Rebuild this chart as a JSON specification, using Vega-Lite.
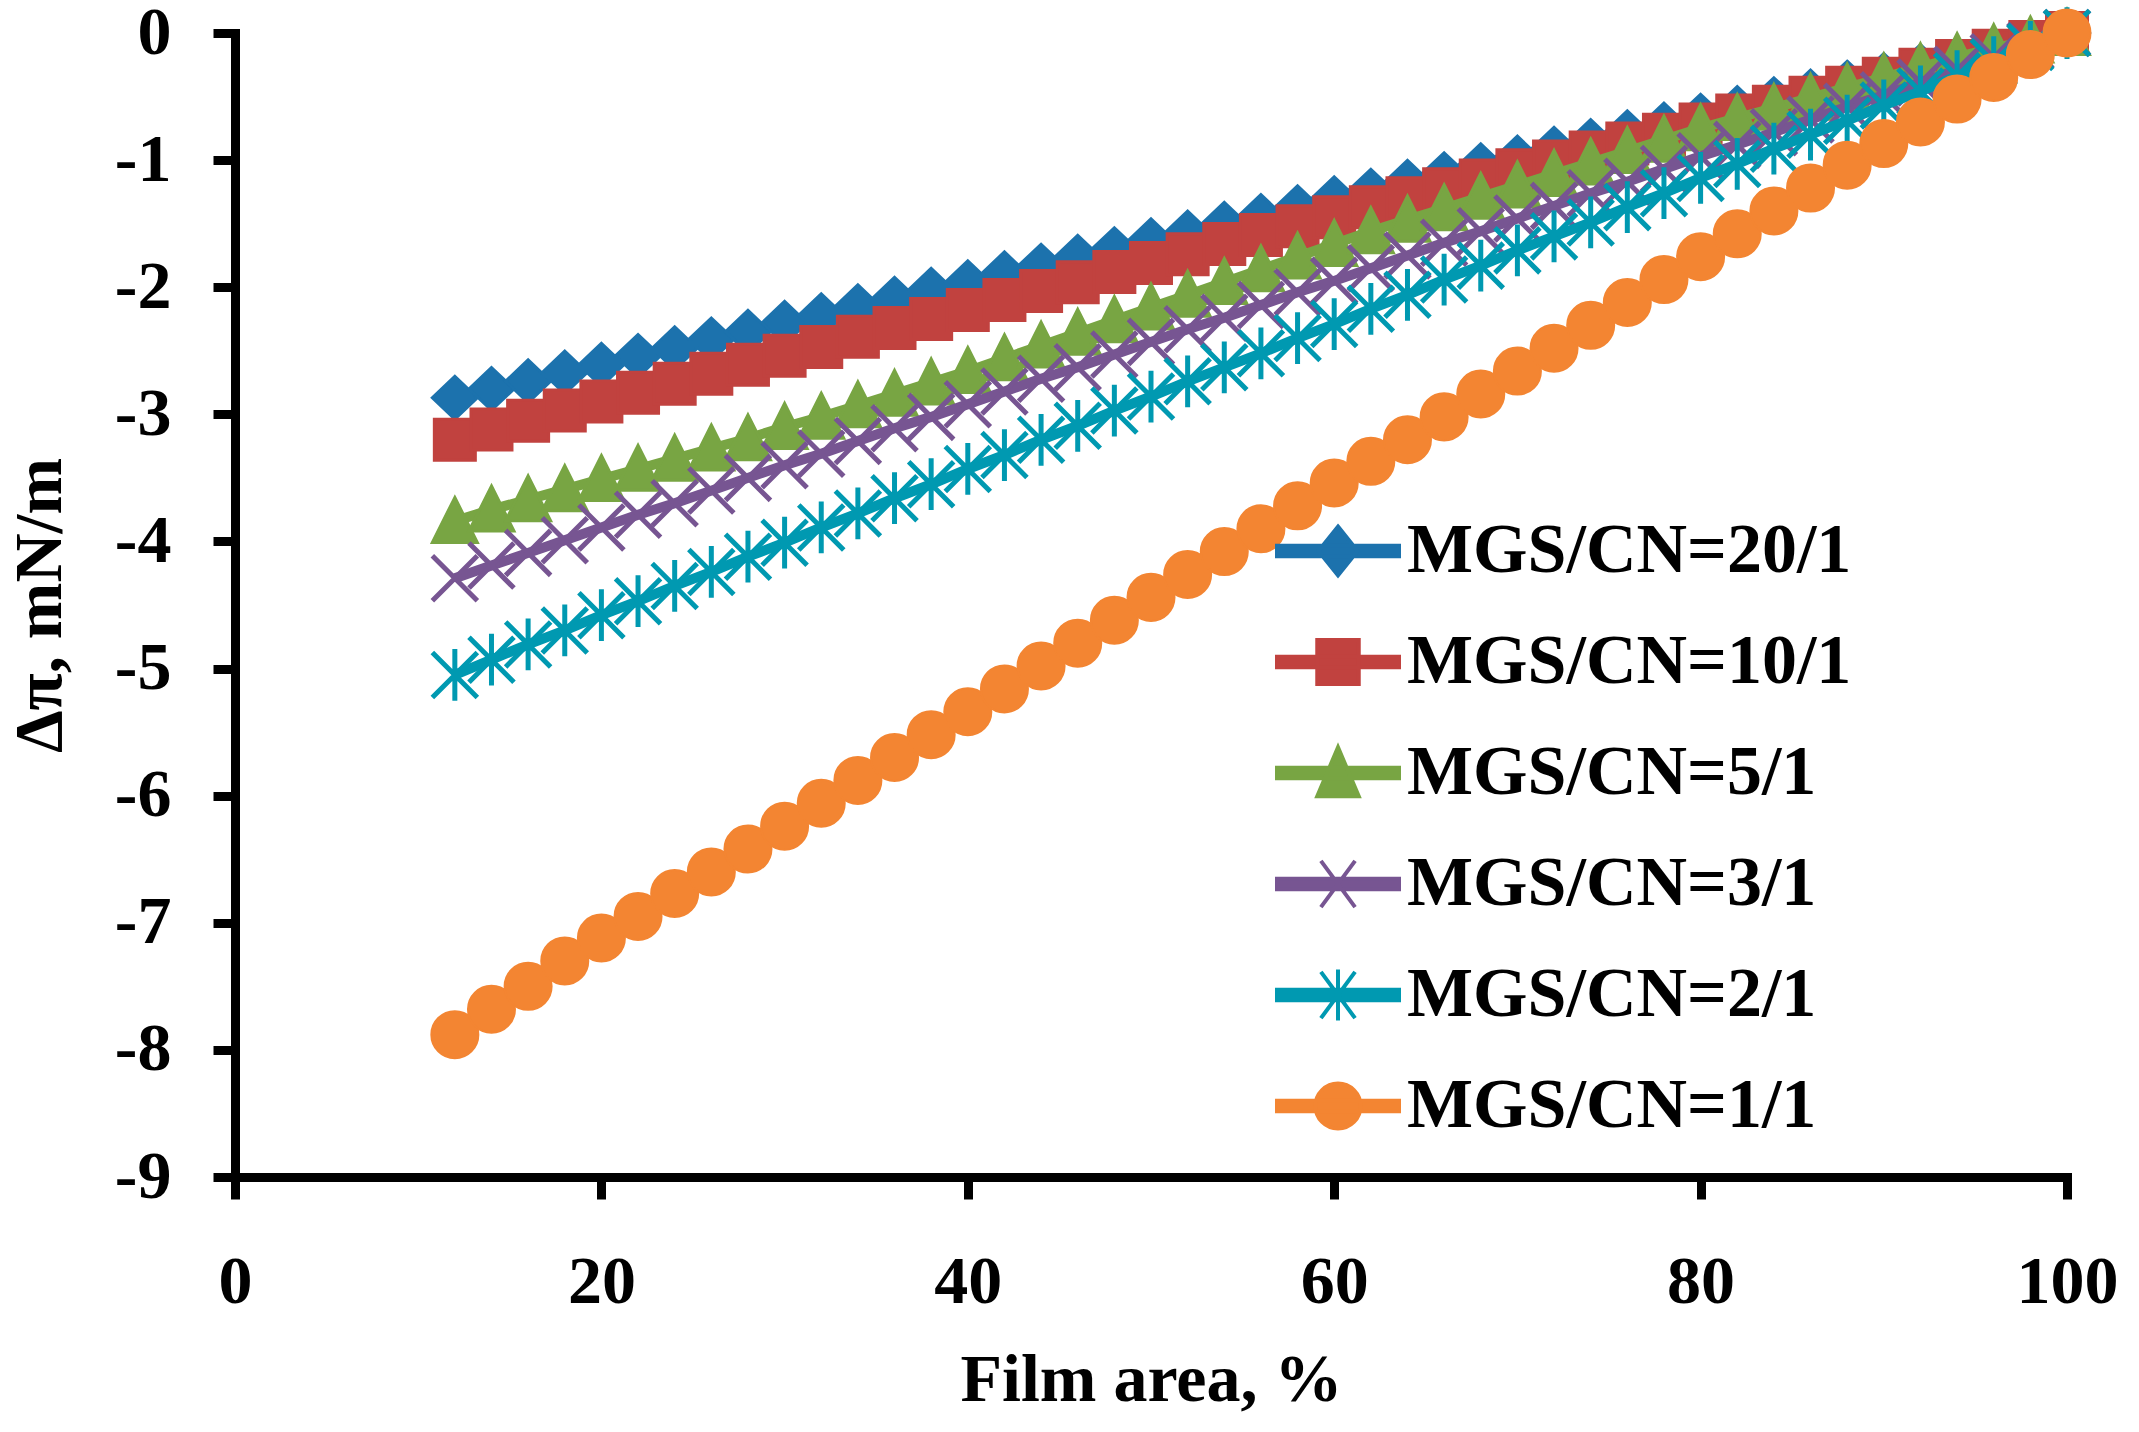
{
  "$schema": "https://vega.github.io/schema/vega-lite/v6.json",
  "width": 1832,
  "height": 1144,
  "autosize": {"type": "none"},
  "padding": {"left": 235, "top": 33, "right": 72, "bottom": 255},
  "background": "white",
  "config": {
    "view": {"stroke": null},
    "font": "Liberation Serif",
    "axis": {
      "grid": false,
      "domainColor": "black",
      "domainWidth": 9,
      "domainCap": "square",
      "tickColor": "black",
      "tickWidth": 9,
      "tickSize": 22,
      "labelFont": "Liberation Serif",
      "labelFontSize": 68,
      "labelFontWeight": "bold",
      "labelColor": "black",
      "titleFont": "Liberation Serif",
      "titleFontSize": 68,
      "titleFontWeight": "bold",
      "titleColor": "black"
    }
  },
  "data": {
    "values": [
      {"s": "MGS/CN=20/1", "x": 12, "y": -2.87}, {"s": "MGS/CN=20/1", "x": 14, "y": -2.80}, {"s": "MGS/CN=20/1", "x": 16, "y": -2.74}, {"s": "MGS/CN=20/1", "x": 18, "y": -2.67}, {"s": "MGS/CN=20/1", "x": 20, "y": -2.61},
      {"s": "MGS/CN=20/1", "x": 22, "y": -2.54}, {"s": "MGS/CN=20/1", "x": 24, "y": -2.48}, {"s": "MGS/CN=20/1", "x": 26, "y": -2.41}, {"s": "MGS/CN=20/1", "x": 28, "y": -2.35}, {"s": "MGS/CN=20/1", "x": 30, "y": -2.28},
      {"s": "MGS/CN=20/1", "x": 32, "y": -2.22}, {"s": "MGS/CN=20/1", "x": 34, "y": -2.15}, {"s": "MGS/CN=20/1", "x": 36, "y": -2.09}, {"s": "MGS/CN=20/1", "x": 38, "y": -2.02}, {"s": "MGS/CN=20/1", "x": 40, "y": -1.96},
      {"s": "MGS/CN=20/1", "x": 42, "y": -1.89}, {"s": "MGS/CN=20/1", "x": 44, "y": -1.83}, {"s": "MGS/CN=20/1", "x": 46, "y": -1.76}, {"s": "MGS/CN=20/1", "x": 48, "y": -1.70}, {"s": "MGS/CN=20/1", "x": 50, "y": -1.63},
      {"s": "MGS/CN=20/1", "x": 52, "y": -1.57}, {"s": "MGS/CN=20/1", "x": 54, "y": -1.50}, {"s": "MGS/CN=20/1", "x": 56, "y": -1.44}, {"s": "MGS/CN=20/1", "x": 58, "y": -1.37}, {"s": "MGS/CN=20/1", "x": 60, "y": -1.30},
      {"s": "MGS/CN=20/1", "x": 62, "y": -1.24}, {"s": "MGS/CN=20/1", "x": 64, "y": -1.17}, {"s": "MGS/CN=20/1", "x": 66, "y": -1.11}, {"s": "MGS/CN=20/1", "x": 68, "y": -1.04}, {"s": "MGS/CN=20/1", "x": 70, "y": -0.98},
      {"s": "MGS/CN=20/1", "x": 72, "y": -0.91}, {"s": "MGS/CN=20/1", "x": 74, "y": -0.85}, {"s": "MGS/CN=20/1", "x": 76, "y": -0.78}, {"s": "MGS/CN=20/1", "x": 78, "y": -0.72}, {"s": "MGS/CN=20/1", "x": 80, "y": -0.65},
      {"s": "MGS/CN=20/1", "x": 82, "y": -0.59}, {"s": "MGS/CN=20/1", "x": 84, "y": -0.52}, {"s": "MGS/CN=20/1", "x": 86, "y": -0.46}, {"s": "MGS/CN=20/1", "x": 88, "y": -0.39}, {"s": "MGS/CN=20/1", "x": 90, "y": -0.33},
      {"s": "MGS/CN=20/1", "x": 92, "y": -0.26}, {"s": "MGS/CN=20/1", "x": 94, "y": -0.20}, {"s": "MGS/CN=20/1", "x": 96, "y": -0.13}, {"s": "MGS/CN=20/1", "x": 98, "y": -0.07}, {"s": "MGS/CN=20/1", "x": 100, "y": 0},

      {"s": "MGS/CN=10/1", "x": 12, "y": -3.20}, {"s": "MGS/CN=10/1", "x": 14, "y": -3.12}, {"s": "MGS/CN=10/1", "x": 16, "y": -3.05}, {"s": "MGS/CN=10/1", "x": 18, "y": -2.97}, {"s": "MGS/CN=10/1", "x": 20, "y": -2.90},
      {"s": "MGS/CN=10/1", "x": 22, "y": -2.83}, {"s": "MGS/CN=10/1", "x": 24, "y": -2.76}, {"s": "MGS/CN=10/1", "x": 26, "y": -2.68}, {"s": "MGS/CN=10/1", "x": 28, "y": -2.61}, {"s": "MGS/CN=10/1", "x": 30, "y": -2.54},
      {"s": "MGS/CN=10/1", "x": 32, "y": -2.47}, {"s": "MGS/CN=10/1", "x": 34, "y": -2.39}, {"s": "MGS/CN=10/1", "x": 36, "y": -2.32}, {"s": "MGS/CN=10/1", "x": 38, "y": -2.25}, {"s": "MGS/CN=10/1", "x": 40, "y": -2.18},
      {"s": "MGS/CN=10/1", "x": 42, "y": -2.10}, {"s": "MGS/CN=10/1", "x": 44, "y": -2.03}, {"s": "MGS/CN=10/1", "x": 46, "y": -1.96}, {"s": "MGS/CN=10/1", "x": 48, "y": -1.88}, {"s": "MGS/CN=10/1", "x": 50, "y": -1.81},
      {"s": "MGS/CN=10/1", "x": 52, "y": -1.74}, {"s": "MGS/CN=10/1", "x": 54, "y": -1.66}, {"s": "MGS/CN=10/1", "x": 56, "y": -1.59}, {"s": "MGS/CN=10/1", "x": 58, "y": -1.52}, {"s": "MGS/CN=10/1", "x": 60, "y": -1.45},
      {"s": "MGS/CN=10/1", "x": 62, "y": -1.37}, {"s": "MGS/CN=10/1", "x": 64, "y": -1.30}, {"s": "MGS/CN=10/1", "x": 66, "y": -1.23}, {"s": "MGS/CN=10/1", "x": 68, "y": -1.16}, {"s": "MGS/CN=10/1", "x": 70, "y": -1.08},
      {"s": "MGS/CN=10/1", "x": 72, "y": -1.01}, {"s": "MGS/CN=10/1", "x": 74, "y": -0.94}, {"s": "MGS/CN=10/1", "x": 76, "y": -0.87}, {"s": "MGS/CN=10/1", "x": 78, "y": -0.80}, {"s": "MGS/CN=10/1", "x": 80, "y": -0.72},
      {"s": "MGS/CN=10/1", "x": 82, "y": -0.65}, {"s": "MGS/CN=10/1", "x": 84, "y": -0.58}, {"s": "MGS/CN=10/1", "x": 86, "y": -0.51}, {"s": "MGS/CN=10/1", "x": 88, "y": -0.43}, {"s": "MGS/CN=10/1", "x": 90, "y": -0.36},
      {"s": "MGS/CN=10/1", "x": 92, "y": -0.29}, {"s": "MGS/CN=10/1", "x": 94, "y": -0.22}, {"s": "MGS/CN=10/1", "x": 96, "y": -0.14}, {"s": "MGS/CN=10/1", "x": 98, "y": -0.07}, {"s": "MGS/CN=10/1", "x": 100, "y": 0},

      {"s": "MGS/CN=5/1", "x": 12, "y": -3.84}, {"s": "MGS/CN=5/1", "x": 14, "y": -3.75}, {"s": "MGS/CN=5/1", "x": 16, "y": -3.67}, {"s": "MGS/CN=5/1", "x": 18, "y": -3.59}, {"s": "MGS/CN=5/1", "x": 20, "y": -3.51},
      {"s": "MGS/CN=5/1", "x": 22, "y": -3.43}, {"s": "MGS/CN=5/1", "x": 24, "y": -3.35}, {"s": "MGS/CN=5/1", "x": 26, "y": -3.27}, {"s": "MGS/CN=5/1", "x": 28, "y": -3.19}, {"s": "MGS/CN=5/1", "x": 30, "y": -3.10},
      {"s": "MGS/CN=5/1", "x": 32, "y": -3.02}, {"s": "MGS/CN=5/1", "x": 34, "y": -2.93}, {"s": "MGS/CN=5/1", "x": 36, "y": -2.84}, {"s": "MGS/CN=5/1", "x": 38, "y": -2.75}, {"s": "MGS/CN=5/1", "x": 40, "y": -2.66},
      {"s": "MGS/CN=5/1", "x": 42, "y": -2.56}, {"s": "MGS/CN=5/1", "x": 44, "y": -2.46}, {"s": "MGS/CN=5/1", "x": 46, "y": -2.36}, {"s": "MGS/CN=5/1", "x": 48, "y": -2.26}, {"s": "MGS/CN=5/1", "x": 50, "y": -2.16},
      {"s": "MGS/CN=5/1", "x": 52, "y": -2.06}, {"s": "MGS/CN=5/1", "x": 54, "y": -1.96}, {"s": "MGS/CN=5/1", "x": 56, "y": -1.86}, {"s": "MGS/CN=5/1", "x": 58, "y": -1.76}, {"s": "MGS/CN=5/1", "x": 60, "y": -1.66},
      {"s": "MGS/CN=5/1", "x": 62, "y": -1.56}, {"s": "MGS/CN=5/1", "x": 64, "y": -1.47}, {"s": "MGS/CN=5/1", "x": 66, "y": -1.38}, {"s": "MGS/CN=5/1", "x": 68, "y": -1.29}, {"s": "MGS/CN=5/1", "x": 70, "y": -1.20},
      {"s": "MGS/CN=5/1", "x": 72, "y": -1.11}, {"s": "MGS/CN=5/1", "x": 74, "y": -1.02}, {"s": "MGS/CN=5/1", "x": 76, "y": -0.93}, {"s": "MGS/CN=5/1", "x": 78, "y": -0.84}, {"s": "MGS/CN=5/1", "x": 80, "y": -0.75},
      {"s": "MGS/CN=5/1", "x": 82, "y": -0.67}, {"s": "MGS/CN=5/1", "x": 84, "y": -0.59}, {"s": "MGS/CN=5/1", "x": 86, "y": -0.51}, {"s": "MGS/CN=5/1", "x": 88, "y": -0.43}, {"s": "MGS/CN=5/1", "x": 90, "y": -0.35},
      {"s": "MGS/CN=5/1", "x": 92, "y": -0.27}, {"s": "MGS/CN=5/1", "x": 94, "y": -0.19}, {"s": "MGS/CN=5/1", "x": 96, "y": -0.12}, {"s": "MGS/CN=5/1", "x": 98, "y": -0.06}, {"s": "MGS/CN=5/1", "x": 100, "y": 0},

      {"s": "MGS/CN=3/1", "x": 12, "y": -4.29}, {"s": "MGS/CN=3/1", "x": 14, "y": -4.19}, {"s": "MGS/CN=3/1", "x": 16, "y": -4.09}, {"s": "MGS/CN=3/1", "x": 18, "y": -3.99}, {"s": "MGS/CN=3/1", "x": 20, "y": -3.89},
      {"s": "MGS/CN=3/1", "x": 22, "y": -3.79}, {"s": "MGS/CN=3/1", "x": 24, "y": -3.70}, {"s": "MGS/CN=3/1", "x": 26, "y": -3.60}, {"s": "MGS/CN=3/1", "x": 28, "y": -3.50}, {"s": "MGS/CN=3/1", "x": 30, "y": -3.40},
      {"s": "MGS/CN=3/1", "x": 32, "y": -3.31}, {"s": "MGS/CN=3/1", "x": 34, "y": -3.21}, {"s": "MGS/CN=3/1", "x": 36, "y": -3.11}, {"s": "MGS/CN=3/1", "x": 38, "y": -3.02}, {"s": "MGS/CN=3/1", "x": 40, "y": -2.92},
      {"s": "MGS/CN=3/1", "x": 42, "y": -2.82}, {"s": "MGS/CN=3/1", "x": 44, "y": -2.72}, {"s": "MGS/CN=3/1", "x": 46, "y": -2.63}, {"s": "MGS/CN=3/1", "x": 48, "y": -2.53}, {"s": "MGS/CN=3/1", "x": 50, "y": -2.43},
      {"s": "MGS/CN=3/1", "x": 52, "y": -2.33}, {"s": "MGS/CN=3/1", "x": 54, "y": -2.24}, {"s": "MGS/CN=3/1", "x": 56, "y": -2.14}, {"s": "MGS/CN=3/1", "x": 58, "y": -2.04}, {"s": "MGS/CN=3/1", "x": 60, "y": -1.95},
      {"s": "MGS/CN=3/1", "x": 62, "y": -1.85}, {"s": "MGS/CN=3/1", "x": 64, "y": -1.75}, {"s": "MGS/CN=3/1", "x": 66, "y": -1.65}, {"s": "MGS/CN=3/1", "x": 68, "y": -1.56}, {"s": "MGS/CN=3/1", "x": 70, "y": -1.46},
      {"s": "MGS/CN=3/1", "x": 72, "y": -1.36}, {"s": "MGS/CN=3/1", "x": 74, "y": -1.26}, {"s": "MGS/CN=3/1", "x": 76, "y": -1.17}, {"s": "MGS/CN=3/1", "x": 78, "y": -1.07}, {"s": "MGS/CN=3/1", "x": 80, "y": -0.97},
      {"s": "MGS/CN=3/1", "x": 82, "y": -0.88}, {"s": "MGS/CN=3/1", "x": 84, "y": -0.78}, {"s": "MGS/CN=3/1", "x": 86, "y": -0.68}, {"s": "MGS/CN=3/1", "x": 88, "y": -0.58}, {"s": "MGS/CN=3/1", "x": 90, "y": -0.49},
      {"s": "MGS/CN=3/1", "x": 92, "y": -0.39}, {"s": "MGS/CN=3/1", "x": 94, "y": -0.29}, {"s": "MGS/CN=3/1", "x": 96, "y": -0.19}, {"s": "MGS/CN=3/1", "x": 98, "y": -0.10}, {"s": "MGS/CN=3/1", "x": 100, "y": 0},

      {"s": "MGS/CN=2/1", "x": 12, "y": -5.05}, {"s": "MGS/CN=2/1", "x": 14, "y": -4.93}, {"s": "MGS/CN=2/1", "x": 16, "y": -4.81}, {"s": "MGS/CN=2/1", "x": 18, "y": -4.70}, {"s": "MGS/CN=2/1", "x": 20, "y": -4.58},
      {"s": "MGS/CN=2/1", "x": 22, "y": -4.47}, {"s": "MGS/CN=2/1", "x": 24, "y": -4.35}, {"s": "MGS/CN=2/1", "x": 26, "y": -4.24}, {"s": "MGS/CN=2/1", "x": 28, "y": -4.12}, {"s": "MGS/CN=2/1", "x": 30, "y": -4.01},
      {"s": "MGS/CN=2/1", "x": 32, "y": -3.89}, {"s": "MGS/CN=2/1", "x": 34, "y": -3.78}, {"s": "MGS/CN=2/1", "x": 36, "y": -3.66}, {"s": "MGS/CN=2/1", "x": 38, "y": -3.55}, {"s": "MGS/CN=2/1", "x": 40, "y": -3.43},
      {"s": "MGS/CN=2/1", "x": 42, "y": -3.32}, {"s": "MGS/CN=2/1", "x": 44, "y": -3.20}, {"s": "MGS/CN=2/1", "x": 46, "y": -3.09}, {"s": "MGS/CN=2/1", "x": 48, "y": -2.97}, {"s": "MGS/CN=2/1", "x": 50, "y": -2.86},
      {"s": "MGS/CN=2/1", "x": 52, "y": -2.74}, {"s": "MGS/CN=2/1", "x": 54, "y": -2.63}, {"s": "MGS/CN=2/1", "x": 56, "y": -2.52}, {"s": "MGS/CN=2/1", "x": 58, "y": -2.40}, {"s": "MGS/CN=2/1", "x": 60, "y": -2.29},
      {"s": "MGS/CN=2/1", "x": 62, "y": -2.17}, {"s": "MGS/CN=2/1", "x": 64, "y": -2.06}, {"s": "MGS/CN=2/1", "x": 66, "y": -1.94}, {"s": "MGS/CN=2/1", "x": 68, "y": -1.83}, {"s": "MGS/CN=2/1", "x": 70, "y": -1.71},
      {"s": "MGS/CN=2/1", "x": 72, "y": -1.60}, {"s": "MGS/CN=2/1", "x": 74, "y": -1.49}, {"s": "MGS/CN=2/1", "x": 76, "y": -1.37}, {"s": "MGS/CN=2/1", "x": 78, "y": -1.26}, {"s": "MGS/CN=2/1", "x": 80, "y": -1.14},
      {"s": "MGS/CN=2/1", "x": 82, "y": -1.03}, {"s": "MGS/CN=2/1", "x": 84, "y": -0.91}, {"s": "MGS/CN=2/1", "x": 86, "y": -0.80}, {"s": "MGS/CN=2/1", "x": 88, "y": -0.69}, {"s": "MGS/CN=2/1", "x": 90, "y": -0.57},
      {"s": "MGS/CN=2/1", "x": 92, "y": -0.46}, {"s": "MGS/CN=2/1", "x": 94, "y": -0.34}, {"s": "MGS/CN=2/1", "x": 96, "y": -0.23}, {"s": "MGS/CN=2/1", "x": 98, "y": -0.11}, {"s": "MGS/CN=2/1", "x": 100, "y": 0},

      {"s": "MGS/CN=1/1", "x": 12, "y": -7.88}, {"s": "MGS/CN=1/1", "x": 14, "y": -7.68}, {"s": "MGS/CN=1/1", "x": 16, "y": -7.50}, {"s": "MGS/CN=1/1", "x": 18, "y": -7.30}, {"s": "MGS/CN=1/1", "x": 20, "y": -7.12},
      {"s": "MGS/CN=1/1", "x": 22, "y": -6.95}, {"s": "MGS/CN=1/1", "x": 24, "y": -6.77}, {"s": "MGS/CN=1/1", "x": 26, "y": -6.60}, {"s": "MGS/CN=1/1", "x": 28, "y": -6.42}, {"s": "MGS/CN=1/1", "x": 30, "y": -6.24},
      {"s": "MGS/CN=1/1", "x": 32, "y": -6.06}, {"s": "MGS/CN=1/1", "x": 34, "y": -5.88}, {"s": "MGS/CN=1/1", "x": 36, "y": -5.70}, {"s": "MGS/CN=1/1", "x": 38, "y": -5.52}, {"s": "MGS/CN=1/1", "x": 40, "y": -5.34},
      {"s": "MGS/CN=1/1", "x": 42, "y": -5.16}, {"s": "MGS/CN=1/1", "x": 44, "y": -4.98}, {"s": "MGS/CN=1/1", "x": 46, "y": -4.80}, {"s": "MGS/CN=1/1", "x": 48, "y": -4.62}, {"s": "MGS/CN=1/1", "x": 50, "y": -4.44},
      {"s": "MGS/CN=1/1", "x": 52, "y": -4.26}, {"s": "MGS/CN=1/1", "x": 54, "y": -4.08}, {"s": "MGS/CN=1/1", "x": 56, "y": -3.90}, {"s": "MGS/CN=1/1", "x": 58, "y": -3.72}, {"s": "MGS/CN=1/1", "x": 60, "y": -3.54},
      {"s": "MGS/CN=1/1", "x": 62, "y": -3.37}, {"s": "MGS/CN=1/1", "x": 64, "y": -3.20}, {"s": "MGS/CN=1/1", "x": 66, "y": -3.02}, {"s": "MGS/CN=1/1", "x": 68, "y": -2.84}, {"s": "MGS/CN=1/1", "x": 70, "y": -2.66},
      {"s": "MGS/CN=1/1", "x": 72, "y": -2.48}, {"s": "MGS/CN=1/1", "x": 74, "y": -2.30}, {"s": "MGS/CN=1/1", "x": 76, "y": -2.12}, {"s": "MGS/CN=1/1", "x": 78, "y": -1.94}, {"s": "MGS/CN=1/1", "x": 80, "y": -1.76},
      {"s": "MGS/CN=1/1", "x": 82, "y": -1.58}, {"s": "MGS/CN=1/1", "x": 84, "y": -1.40}, {"s": "MGS/CN=1/1", "x": 86, "y": -1.22}, {"s": "MGS/CN=1/1", "x": 88, "y": -1.04}, {"s": "MGS/CN=1/1", "x": 90, "y": -0.87},
      {"s": "MGS/CN=1/1", "x": 92, "y": -0.70}, {"s": "MGS/CN=1/1", "x": 94, "y": -0.52}, {"s": "MGS/CN=1/1", "x": 96, "y": -0.35}, {"s": "MGS/CN=1/1", "x": 98, "y": -0.17}, {"s": "MGS/CN=1/1", "x": 100, "y": 0}
    ]
  },
  "encoding": {
    "x": {
      "field": "x",
      "type": "quantitative",
      "title": "Film area, %",
      "scale": {"domain": [0, 100], "nice": false, "zero": false},
      "axis": {"values": [0, 20, 40, 60, 80, 100], "labelPadding": 49, "titlePadding": 30, "labelFlush": false, "labelOverlap": false}
    },
    "y": {
      "field": "y",
      "type": "quantitative",
      "title": "Δπ, mN/m",
      "scale": {"domain": [-9, 0], "nice": false},
      "axis": {
        "values": [-9, -8, -7, -6, -5, -4, -3, -2, -1, 0],
        "labelExpr": "replace(datum.label, '\u2212', '-')",
        "labelPadding": 42,
        "titlePadding": 40,
        "labelFlush": false,
        "labelOverlap": false
      }
    }
  },
  "layer": [
    {"transform": [{"filter": "datum.s === 'MGS/CN=20/1'"}], "mark": {"type": "line", "color": "#1C72AD", "strokeWidth": 10}, "encoding": {}},
    {"transform": [{"filter": "datum.s === 'MGS/CN=20/1'"}], "mark": {"type": "point", "shape": "M0,-0.95L1,0L0,0.95L-1,0Z", "size": 2025, "filled": true, "opacity": 1, "fill": "#1C72AD", "stroke": "#1C72AD", "strokeWidth": 3}},
    {"transform": [{"filter": "datum.s === 'MGS/CN=10/1'"}], "mark": {"type": "line", "color": "#C1423F", "strokeWidth": 10}, "encoding": {}},
    {"transform": [{"filter": "datum.s === 'MGS/CN=10/1'"}], "mark": {"type": "point", "shape": "M-1,-1H1V1H-1Z", "size": 1681, "filled": true, "opacity": 1, "fill": "#C1423F", "stroke": "#C1423F", "strokeWidth": 3}},
    {"transform": [{"filter": "datum.s === 'MGS/CN=5/1'"}], "mark": {"type": "line", "color": "#78A543", "strokeWidth": 10}, "encoding": {}},
    {"transform": [{"filter": "datum.s === 'MGS/CN=5/1'"}], "mark": {"type": "point", "shape": "M0,-1.05L1,0.95L-1,0.95Z", "size": 2025, "filled": true, "opacity": 1, "fill": "#78A543", "stroke": "#78A543", "strokeWidth": 3}},
    {"transform": [{"filter": "datum.s === 'MGS/CN=3/1'"}], "mark": {"type": "line", "color": "#775592", "strokeWidth": 10}, "encoding": {}},
    {"transform": [{"filter": "datum.s === 'MGS/CN=3/1'"}], "mark": {"type": "point", "shape": "M-1,-1L1,1M-1,1L1,-1", "size": 2025, "filled": true, "opacity": 1, "fill": "#775592", "stroke": "#775592", "strokeWidth": 5}},
    {"transform": [{"filter": "datum.s === 'MGS/CN=2/1'"}], "mark": {"type": "line", "color": "#0099B1", "strokeWidth": 10}, "encoding": {}},
    {"transform": [{"filter": "datum.s === 'MGS/CN=2/1'"}], "mark": {"type": "point", "shape": "M-1,-1L1,1M-1,1L1,-1M0,-1.15V1.15", "size": 2025, "filled": true, "opacity": 1, "fill": "#0099B1", "stroke": "#0099B1", "strokeWidth": 5}},
    {"transform": [{"filter": "datum.s === 'MGS/CN=1/1'"}], "mark": {"type": "line", "color": "#F38532", "strokeWidth": 10}, "encoding": {}},
    {"transform": [{"filter": "datum.s === 'MGS/CN=1/1'"}], "mark": {"type": "point", "shape": "circle", "size": 2209, "filled": true, "opacity": 1, "fill": "#F38532", "stroke": "#F38532", "strokeWidth": 2}},
    {
      "transform": [{"filter": "datum.x > 1000"}],
      "mark": {"type": "point", "filled": true, "opacity": 1},
      "encoding": {
        "color": {
          "field": "s",
          "type": "nominal",
          "scale": {
            "domain": ["MGS/CN=20/1", "MGS/CN=10/1", "MGS/CN=5/1", "MGS/CN=3/1", "MGS/CN=2/1", "MGS/CN=1/1"],
            "range": ["#1C72AD", "#C1423F", "#78A543", "#775592", "#0099B1", "#F38532"]
          },
          "legend": {
            "orient": "none",
            "legendX": 1040,
            "legendY": 455,
            "title": null,
            "padding": 0,
            "labelFont": "Liberation Serif",
            "labelFontSize": 70,
            "labelFontWeight": "bold",
            "labelColor": "black",
            "labelLimit": 0,
            "labelOffset": 6,
            "rowPadding": 13,
            "symbolSize": 14884,
            "symbolStrokeWidth": 4,
            "symbolOpacity": 1,
            "encode": {
              "symbols": {
                "update": {
                  "fill": {"scale": "color", "field": "value"},
                  "stroke": {"scale": "color", "field": "value"},
                  "strokeWidth": {"value": 4},
                  "opacity": {"value": 1}
                }
              }
            }
          }
        },
        "shape": {
          "field": "s",
          "type": "nominal",
          "scale": {
            "domain": ["MGS/CN=20/1", "MGS/CN=10/1", "MGS/CN=5/1", "MGS/CN=3/1", "MGS/CN=2/1", "MGS/CN=1/1"],
            "range": [
              "M-1,-0.085H1V0.085H-1Z M0,-0.4L0.32,0L0,0.4L-0.32,0Z",
              "M-1,-0.085H1V0.085H-1Z M-0.34,-0.36H0.34V0.36H-0.34Z",
              "M-1,-0.085H1V0.085H-1Z M0,-0.42L0.34,0.38H-0.34Z",
              "M-1,-0.085H1V0.085H-1Z M-0.28,-0.38L0.28,0.38M-0.28,0.38L0.28,-0.38",
              "M-1,-0.085H1V0.085H-1Z M-0.28,-0.38L0.28,0.38M-0.28,0.38L0.28,-0.38M0,-0.42V0.42",
              "M-1,-0.085H1V0.085H-1Z M-0.37,0A0.37,0.37,0,1,1,0.37,0A0.37,0.37,0,1,1,-0.37,0Z"
            ]
          }
        }
      }
    }
  ]
}
